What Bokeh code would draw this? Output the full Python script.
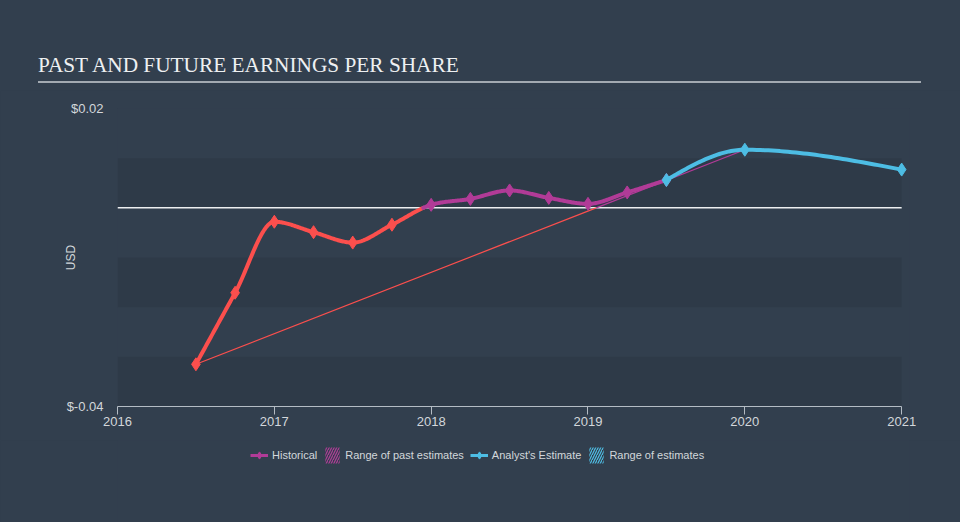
import numpy as np
from bokeh.plotting import figure
from bokeh.models import (Range1d, FixedTicker, CustomJSTickFormatter, BoxAnnotation,
                          Legend, LegendItem, ColumnDataSource, Div)
from bokeh.layouts import column
from bokeh.embed import file_html
from bokeh.resources import INLINE

# ---------------- data ----------------
hist_year = [2016.5, 2016.75, 2017.0, 2017.25, 2017.5, 2017.75, 2018.0,
             2018.25, 2018.5, 2018.75, 2019.0, 2019.25, 2019.5]
hist_eps = [-0.0315, -0.0171, -0.0028, -0.0049, -0.0070, -0.0034, 0.0006,
            0.0018, 0.0035, 0.0020, 0.0008, 0.0031, 0.0056]
fc_year = [2019.5, 2020.0, 2021.0]
fc_eps = [0.0056, 0.0117, 0.0077]
x_ticks = [2016, 2017, 2018, 2019, 2020, 2021]
y_ticks = [-0.04, 0.02]
title_text = "PAST AND FUTURE EARNINGS PER SHARE"
legend_labels = ["Historical", "Range of past estimates", "Analyst's Estimate", "Range of estimates"]

# ---------------- style ----------------
BG = "#323f4e"
RED = "#fc4f4d"
PURPLE = "#b13b97"
BLUE = "#4dbde4"
TXT = "#d3d7db"
FONT = "Liberation Sans"
BANDS = [(0.0, 0.01), (-0.02, -0.01), (-0.04, -0.03)]
X0, X1, XPAD = x_ticks[0], x_ticks[-1], 0.05


def monotone(xs, ys, per=40):
    xs = np.asarray(xs, float)
    ys = np.asarray(ys, float)
    n = len(xs)
    h = np.diff(xs)
    s = np.diff(ys) / h
    t = np.zeros(n)
    for i in range(1, n - 1):
        s0, s1, h0, h1 = s[i - 1], s[i], h[i - 1], h[i]
        p_ = (s0 * h1 + s1 * h0) / (h0 + h1)
        t[i] = (np.sign(s0) + np.sign(s1)) * min(abs(s0), abs(s1), 0.5 * abs(p_))
    if n > 2:
        t[0] = (3 * s[0] - t[1]) / 2
        t[-1] = (3 * s[-1] - t[-2]) / 2
    else:
        t[0] = t[-1] = s[0]
    ox, oy = [float(xs[0])], [float(ys[0])]
    u = np.linspace(0, 1, per + 1)[1:]
    h00 = 2 * u**3 - 3 * u**2 + 1
    h10 = u**3 - 2 * u**2 + u
    h01 = -2 * u**3 + 3 * u**2
    h11 = u**3 - u**2
    for i in range(n - 1):
        hh = h[i]
        ox.extend((xs[i] + hh * u).tolist())
        oy.extend((h00 * ys[i] + h10 * hh * t[i] + h01 * ys[i + 1] + h11 * hh * t[i + 1]).tolist())
    return ox, oy


def split_sign(x, y):
    runs = []
    cx, cy = [x[0]], [y[0]]
    cur = y[0] >= 0
    for i in range(1, len(x)):
        pos = y[i] >= 0
        if pos != cur:
            xc = x[i - 1] + (x[i] - x[i - 1]) * (0 - y[i - 1]) / (y[i] - y[i - 1])
            cx.append(xc)
            cy.append(0.0)
            runs.append((cur, cx, cy))
            cx, cy = [xc], [0.0]
            cur = pos
        cx.append(x[i])
        cy.append(y[i])
    runs.append((cur, cx, cy))
    return runs


p = figure(width=960, height=350, output_backend="svg", toolbar_location=None,
           x_range=Range1d(X0, X1 + XPAD), y_range=Range1d(-0.04, 0.02),
           min_border_left=117, min_border_right=51, min_border_top=18, min_border_bottom=34)
p.background_fill_color = BG
p.border_fill_color = BG
p.outline_line_color = None
p.xgrid.visible = False
p.ygrid.visible = False

for b, t in BANDS:
    p.add_layout(BoxAnnotation(bottom=b, top=t, left=X0, right=X1, fill_color="#000000",
                               fill_alpha=0.075, line_alpha=0, level="underlay"))
p.add_layout(BoxAnnotation(bottom=0, top=0, left=X0, right=X1, fill_alpha=0,
                           line_color="#eceef0", line_alpha=1, line_width=1.5, level="underlay"))

# range of past estimates: straight line from first historical to first forecast year
rx = [hist_year[0], fc_year[1]]
ry = [hist_eps[0], fc_eps[1]]
rruns = split_sign(rx, ry)
p.multi_line(xs=[r[1] for r in rruns], ys=[r[2] for r in rruns],
             line_color=[PURPLE if r[0] else RED for r in rruns], line_width=1.2)

# historical curve
hx, hy = monotone(hist_year, hist_eps)
hruns = split_sign(hx, hy)
p.multi_line(xs=[r[1] for r in hruns], ys=[r[2] for r in hruns],
             line_color=[PURPLE if r[0] else RED for r in hruns], line_width=4,
             line_cap="round", line_join="round")
hist_src = ColumnDataSource(dict(x=hist_year, y=hist_eps,
                                 c=[PURPLE if v >= 0 else RED for v in hist_eps]))
p.scatter("x", "y", source=hist_src, marker="diamond", size=13, fill_color="c", line_color="c")

# forecast curve
fx, fy = monotone(fc_year, fc_eps)
p.line(fx, fy, line_color=BLUE, line_width=4, line_cap="round")
p.scatter(fc_year, fc_eps, marker="diamond", size=13, color=BLUE)

# axes
p.xaxis.ticker = FixedTicker(ticks=x_ticks)
p.xaxis.bounds = (X0, X1)
p.xaxis.axis_line_color = "#b4bcc4"
p.xaxis.major_tick_line_color = "#b4bcc4"
p.xaxis.major_tick_out = 8
p.xaxis.major_tick_in = 0
p.xaxis.minor_tick_line_color = None
p.xaxis.major_label_standoff = 2
p.xaxis.major_label_text_color = TXT
p.xaxis.major_label_text_font = FONT
p.xaxis.major_label_text_font_size = "13px"

p.yaxis.ticker = FixedTicker(ticks=y_ticks)
p.yaxis.formatter = CustomJSTickFormatter(code="return '$' + tick.toFixed(2);")
p.yaxis.axis_line_color = None
p.yaxis.major_tick_line_color = None
p.yaxis.minor_tick_line_color = None
p.yaxis.major_tick_out = 0
p.yaxis.major_tick_in = 0
p.yaxis.major_label_standoff = 14
p.yaxis.major_label_text_color = TXT
p.yaxis.major_label_text_font = FONT
p.yaxis.major_label_text_font_size = "13px"
p.yaxis.axis_label = "USD"
p.yaxis.axis_label_text_font = FONT
p.yaxis.axis_label_text_font_size = "12px"
p.yaxis.axis_label_text_font_style = "normal"
p.yaxis.axis_label_text_color = TXT
p.yaxis.axis_label_standoff = -14

# legend in its own strip below the chart
lg = figure(width=960, height=82, output_backend="svg", toolbar_location=None,
            x_range=Range1d(0, 1), y_range=Range1d(0, 1),
            min_border_left=0, min_border_right=0, min_border_top=0, min_border_bottom=0,
            x_axis_type=None, y_axis_type=None)
lg.background_fill_color = BG
lg.border_fill_color = BG
lg.outline_line_color = None
lg.xgrid.visible = False
lg.ygrid.visible = False
OFF = [-5]
lh_line = lg.line(x=OFF, y=OFF, line_color=PURPLE, line_width=3)
lh_pt = lg.scatter(x=OFF, y=OFF, marker="diamond", size=15, color=PURPLE)
lr_past = lg.quad(left=OFF, right=OFF, top=OFF, bottom=OFF, fill_alpha=0, line_alpha=0,
                  hatch_pattern="/", hatch_color=PURPLE, hatch_scale=5, hatch_weight=1.2)
lf_line = lg.line(x=OFF, y=OFF, line_color=BLUE, line_width=3)
lf_pt = lg.scatter(x=OFF, y=OFF, marker="diamond", size=15, color=BLUE)
lr_fc = lg.quad(left=OFF, right=OFF, top=OFF, bottom=OFF, fill_alpha=0, line_alpha=0,
                hatch_pattern="/", hatch_color=BLUE, hatch_scale=5, hatch_weight=1.2)
legend = Legend(items=[
    LegendItem(label=legend_labels[0], renderers=[lh_line, lh_pt]),
    LegendItem(label=legend_labels[1], renderers=[lr_past]),
    LegendItem(label=legend_labels[2], renderers=[lf_line, lf_pt]),
    LegendItem(label=legend_labels[3], renderers=[lr_fc]),
], orientation="horizontal", location=(133, 57), background_fill_alpha=0, border_line_alpha=0,
    label_text_color=TXT, label_text_font=FONT, label_text_font_size="11px",
    glyph_width=18, glyph_height=20, spacing=6, label_standoff=4, margin=0, padding=0)
lg.add_layout(legend, "center")

title = Div(text=('<div style="padding-top:55px;margin-left:38px;width:883px;'
                  'font-family:\'Liberation Serif\';font-size:21.3px;line-height:21px;color:#eef0f2;'
                  'border-bottom:2px solid #a3aab2;padding-bottom:5px;">'
                  + title_text + '</div>'),
            width=960, height=90, margin=(0, 0, 0, 0), styles={"background-color": BG})

layout = column(title, p, lg, spacing=0, styles={"background-color": BG})
open("out.html", "w").write(file_html(layout, INLINE))
